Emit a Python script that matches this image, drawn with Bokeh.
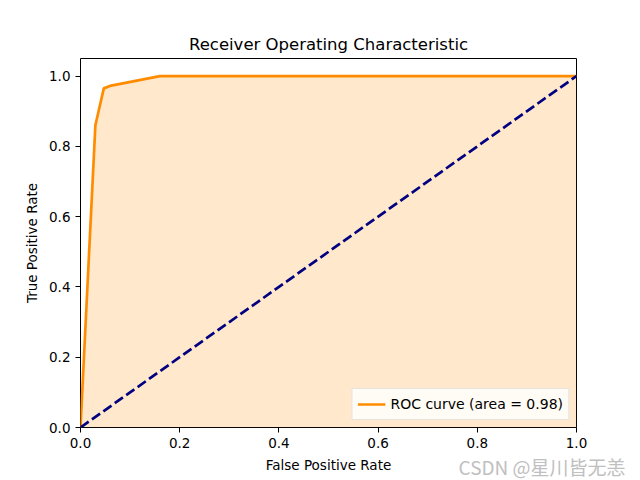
from bokeh.plotting import figure
from bokeh.models import Range1d, Legend, LegendItem, FixedTicker, Title
from bokeh.embed import file_html
from bokeh.resources import INLINE

fpr = [0.0, 0.03, 0.047, 0.062, 0.16, 1.0]
tpr = [0.0, 0.86, 0.965, 0.973, 1.0, 1.0]
diag = [0.0, 1.0]
roc_auc = 0.98
ticks = [0.0, 0.2, 0.4, 0.6, 0.8, 1.0]

FONT = "DejaVu Sans"

p = figure(width=640, height=480, output_backend="svg", toolbar_location=None,
           x_range=Range1d(0, 1), y_range=Range1d(0, 1.05),
           min_border_left=80, min_border_right=64, min_border_top=58, min_border_bottom=53)
p.title.text = "Receiver Operating Characteristic"
p.title.align = "center"
p.title.text_font = FONT
p.title.text_font_size = "16.5px"
p.title.text_font_style = "normal"
p.title.text_color = "black"
p.title.offset = 0

p.grid.visible = False
p.outline_line_color = "black"
p.outline_line_width = 1
p.background_fill_color = "white"
p.border_fill_color = "white"

for ax, lab in ((p.xaxis[0], "False Positive Rate"), (p.yaxis[0], "True Positive Rate")):
    ax.axis_label = lab
    ax.axis_label_text_font = FONT
    ax.axis_label_text_font_size = "13.5px"
    ax.axis_label_text_font_style = "normal"
    ax.axis_label_text_color = "black"
    ax.major_label_text_font = FONT
    ax.major_label_text_font_size = "13.5px"
    ax.major_label_text_color = "black"
    ax.ticker = FixedTicker(ticks=ticks)
    ax.minor_tick_line_color = None
    ax.major_tick_out = 5
    ax.major_tick_in = 0
    ax.axis_line_color = None
    ax.major_tick_line_color = "black"
    ax.axis_label_standoff = 6
p.xaxis.major_label_overrides = {t: f"{t:.1f}" for t in ticks}
p.yaxis.major_label_overrides = {t: f"{t:.1f}" for t in ticks}

p.varea(x=fpr, y1=[0.0] * len(fpr), y2=tpr, fill_color="darkorange", fill_alpha=0.2)
r = p.line(fpr, tpr, line_color="darkorange", line_width=2.7)
p.line(diag, diag, line_color="navy", line_width=2.7, line_dash="10 4")

legend = Legend(items=[LegendItem(label=f"ROC curve (area = {roc_auc:.2f})", renderers=[r])],
                location="bottom_right")
legend.margin = 7
legend.padding = 5
legend.spacing = 0
legend.glyph_width = 28
legend.label_text_font = FONT
legend.label_text_font_size = "14px"
legend.label_text_color = "black"
legend.border_line_color = "#cccccc"
legend.background_fill_alpha = 0.8
p.add_layout(legend)

wm = Title(text="CSDN @星川皆无恙", align="right", vertical_align="top", standoff=-46, offset=-49,
           text_font="Noto Sans CJK SC", text_font_size="19px", text_color="#c0c0c0",
           text_font_style="normal")
p.add_layout(wm, "below")

open("out.html", "w").write(file_html(p, INLINE))
